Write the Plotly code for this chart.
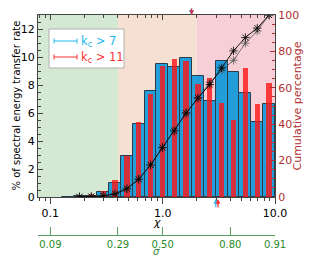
import numpy as np
import plotly.graph_objects as go

# ---------------- data ----------------
chi_centers = [0.0877, 0.1117, 0.1424, 0.1816, 0.2316, 0.2953, 0.3764, 0.4800, 0.6118, 0.7801,
               0.9947, 1.268, 1.617, 2.062, 2.629, 3.352, 4.273, 5.448, 6.946, 8.857]
pct_kc7 = [None, None, 0.03, 0.04, 0.08, 0.36, 1.00, 2.95, 5.19, 7.57,
           9.48, 9.26, 9.90, 8.67, 6.83, 9.74, 8.90, 7.40, 5.35, 6.62]
pct_kc11 = [None, None, 0.02, 0.04, 0.20, 0.45, 1.20, 2.90, 5.38, 7.38,
            9.36, 9.86, 9.71, 8.05, 8.48, 6.71, 5.50, 9.19, 6.62, 8.15]
cum_kc7 = [None, None, None, 0.12, 0.2, 0.6, 1.6, 4.5, 9.7, 17.6,
           27.2, 36.3, 46.1, 54.4, 61.8, 71.0, 80.3, 87.6, 92.8, 100.0]
cum_kc11 = [None, None, None, 0.08, 0.3, 0.75, 1.95, 4.8, 10.2, 17.6,
            27.0, 36.8, 46.4, 54.4, 62.9, 69.6, 75.1, 84.5, 91.2, 100.0]
region_bounds = [0.4, 2.0]          # chi boundaries of the shaded regimes
median_chi = [1.80, 1.81]           # top arrows (k_c>7, k_c>11)
mean_chi = [2.97, 3.11]             # bottom arrows (k_c>7, k_c>11)
x_major_vals = [0.1, 1.0, 10.0]
x_major_text = ["0.1", "1.0", "10.0"]
x_minor_vals = [0.08, 0.09, 0.2, 0.3, 0.4, 0.5, 0.6, 0.7, 0.8, 0.9,
                2, 3, 4, 5, 6, 7, 8, 9]
y_left_ticks = [0, 2, 4, 6, 8, 10, 12]
y_right_ticks = [0, 20, 40, 60, 80, 100]
sigma_tick_chi = [0.1, 0.4, 1.0, 4.0, 10.0]
sigma_tick_text = ["0.09", "0.29", "0.50", "0.80", "0.91"]

# ---------------- styles ----------------
FONT = "DejaVu Sans"
BIN_W = 0.1055          # bin width in decades
RED_W = 0.047
XMIN, XMAX = -1.11, 1.0
C_BLUE = "rgba(0,148,218,0.86)"
C_RED = "rgba(255,20,20,0.8)"
C_CYAN_TXT = "#22b8ee"
C_RED_TXT = "#ff3333"
C_RIGHT = "#b03030"
C_GREEN = "#2a8a2a"
C_SPINE = "#444444"
BG = ["#d5e8d4", "#f6e0d2", "#f6d0d6"]

lx = np.log10(chi_centers)

fig = go.Figure()

fig.add_trace(go.Bar(x=lx, y=pct_kc7, width=BIN_W, marker=dict(color=C_BLUE, line=dict(color="#2a3c4c", width=1)),
                     showlegend=False, hoverinfo="skip"))
fig.add_trace(go.Bar(x=lx, y=pct_kc11, width=RED_W, marker=dict(color=C_RED, line=dict(width=0)),
                     showlegend=False, hoverinfo="skip"))

fig.add_trace(go.Scatter(x=lx, y=cum_kc11, yaxis="y2", mode="lines+markers",
                         line=dict(color="rgba(70,70,70,0.8)", width=0.9),
                         marker=dict(symbol="asterisk-open", size=7, line=dict(color="rgba(70,70,70,0.8)", width=0.8)),
                         showlegend=False, hoverinfo="skip"))
fig.add_trace(go.Scatter(x=lx, y=cum_kc7, yaxis="y2", mode="lines+markers",
                         line=dict(color="black", width=0.9),
                         marker=dict(symbol="asterisk-open", size=7, line=dict(color="black", width=0.8)),
                         showlegend=False, hoverinfo="skip"))
# invisible helper traces so the extra x-axes render
fig.add_trace(go.Scatter(x=[0], y=[0], xaxis="x2", mode="markers", marker=dict(opacity=0),
                         showlegend=False, hoverinfo="skip"))
fig.add_trace(go.Scatter(x=[0], y=[0], xaxis="x3", mode="markers", marker=dict(opacity=0),
                         showlegend=False, hoverinfo="skip"))

# background regimes
bounds = [XMIN] + list(np.log10(region_bounds)) + [XMAX]
shapes = []
for i in range(3):
    shapes.append(dict(type="rect", xref="x", yref="y domain", x0=bounds[i], x1=bounds[i + 1], y0=0, y1=1,
                       fillcolor=BG[i], line=dict(width=0), layer="below"))

# manual legend (paper coords: x 38..275 px, y 15..235 px of the window)
def px(xp):
    return (xp - 38) / 237.0

def py(yp):
    return (235 - yp) / 220.0

shapes.append(dict(type="rect", xref="paper", yref="paper", x0=px(49), x1=px(124), y0=py(68), y1=py(29),
                   fillcolor="white", line=dict(color="#b0b0b0", width=1), layer="above"))
annotations = []
for yy, col, txt in [(41, C_CYAN_TXT, "k<sub>c</sub> > 7"), (57, C_RED_TXT, "k<sub>c</sub> > 11")]:
    shapes.append(dict(type="line", xref="paper", yref="paper", x0=px(54), x1=px(77), y0=py(yy), y1=py(yy),
                       line=dict(color=col, width=1), layer="above"))
    for xe in (54, 77):
        shapes.append(dict(type="line", xref="paper", yref="paper", x0=px(xe), x1=px(xe), y0=py(yy - 2.5),
                           y1=py(yy + 2.5), line=dict(color=col, width=1), layer="above"))
    annotations.append(dict(xref="paper", yref="paper", x=px(79), y=py(yy), text=txt, showarrow=False,
                            xanchor="left", yanchor="middle", font=dict(family=FONT, size=11.5, color=col)))

# arrows: medians (top, pointing down) and means (bottom, pointing up)
for c, col in zip(median_chi, ["#33bbee", "#d0304a"]):
    annotations.append(dict(xref="x", yref="paper", x=np.log10(c), y=py(15), ax=0, ay=-11, text="",
                            font=dict(size=1), borderpad=0,
                            showarrow=True, arrowhead=2, arrowsize=0.8, arrowwidth=1.2, arrowcolor=col))
for c, col in zip(mean_chi, ["#33bbee", "#ff3030"]):
    annotations.append(dict(xref="x", yref="paper", x=np.log10(c), y=py(199), ax=0, ay=9, text="",
                            font=dict(size=1), borderpad=0,
                            showarrow=True, arrowhead=2, arrowsize=0.8, arrowwidth=1.2, arrowcolor=col))

# axis titles
annotations.append(dict(xref="paper", yref="paper", x=px(8), y=py(106), text="% of spectral energy transfer rate",
                        textangle=-90, showarrow=False, font=dict(family=FONT, size=10, color="black")))
annotations.append(dict(xref="paper", yref="paper", x=px(305), y=py(106), text="Cumulative percentage",
                        textangle=-90, showarrow=False, font=dict(family=FONT, size=11, color=C_RIGHT)))
annotations.append(dict(xref="paper", yref="paper", x=0.5, y=py(222), text="<i>χ</i>", showarrow=False,
                        xanchor="center", yanchor="middle", font=dict(family=FONT, size=11, color="black")))
annotations.append(dict(xref="paper", yref="paper", x=0.5, y=py(251), text="<i>σ</i>", showarrow=False,
                        xanchor="center", yanchor="middle", font=dict(family=FONT, size=10, color=C_GREEN)))

tickfont = dict(family=FONT, size=11, color="black")

# page body has an 8px margin -> figure is 313x248 and starts at (8, 8) in the window
fig.update_layout(
    width=313, height=248,
    margin=dict(l=30, r=46, t=7, b=21, autoexpand=False),
    paper_bgcolor="white", plot_bgcolor="white",
    barmode="overlay", bargap=0,
    showlegend=False,
    shapes=shapes, annotations=annotations,
    font=dict(family=FONT),
    xaxis=dict(range=[XMIN, XMAX], anchor="y", showgrid=False, zeroline=False, showline=True,
               linecolor=C_SPINE, linewidth=1, ticks="outside", ticklen=6, tickcolor=C_SPINE,
               tickmode="array", tickvals=list(np.log10(x_major_vals)), ticktext=x_major_text,
               tickfont=tickfont,
               minor=dict(tickmode="array", tickvals=list(np.log10(x_minor_vals)), ticks="outside",
                          ticklen=3, tickcolor=C_SPINE)),
    xaxis3=dict(range=[XMIN, XMAX], overlaying="x", side="top", anchor="y", showgrid=False, zeroline=False,
                showline=True, linecolor=C_SPINE, linewidth=1, ticks="inside", ticklen=5, tickcolor=C_SPINE,
                tickmode="array", tickvals=list(np.log10(x_major_vals)), showticklabels=False,
                minor=dict(tickmode="array", tickvals=list(np.log10(x_minor_vals)), ticks="inside",
                           ticklen=3, tickcolor=C_SPINE)),
    xaxis2=dict(range=[XMIN, XMAX], overlaying="x", side="bottom", anchor="free", position=0,
                showgrid=False, zeroline=False, showline=True, linecolor="#5a9a5a", linewidth=1,
                ticks="inside", ticklen=8, tickcolor="#5a9a5a",
                tickmode="array", tickvals=list(np.log10(sigma_tick_chi)), ticktext=sigma_tick_text,
                tickfont=dict(family=FONT, size=10, color=C_GREEN)),
    yaxis=dict(domain=[(235 - 197) / 220.0, 1], range=[0, 13], showgrid=False, zeroline=False, showline=True,
               linecolor=C_SPINE, linewidth=1, ticks="inside", ticklen=5, tickcolor=C_SPINE,
               tickmode="array", tickvals=y_left_ticks, tickfont=tickfont,
               minor=dict(dtick=0.5, ticks="inside", ticklen=3, tickcolor=C_SPINE)),
    yaxis2=dict(range=[0, 100], overlaying="y", side="right", anchor="x", showgrid=False, zeroline=False,
                showline=True, linecolor=C_SPINE, linewidth=1, ticks="inside", ticklen=5, tickcolor=C_RIGHT,
                tickmode="array", tickvals=y_right_ticks, tickfont=dict(family=FONT, size=11, color=C_RIGHT),
                minor=dict(dtick=5, ticks="inside", ticklen=3, tickcolor=C_RIGHT)),
)

fig.write_html("out.html")
